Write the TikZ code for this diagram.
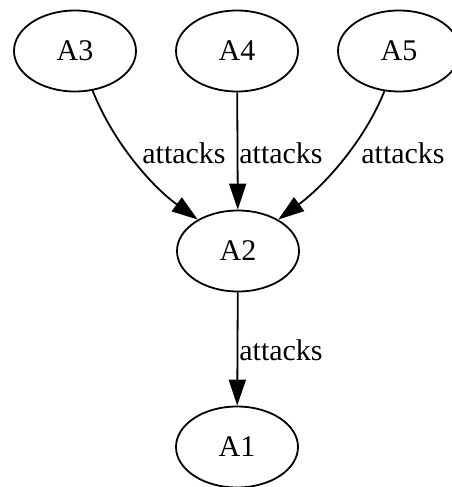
\documentclass[tikz,border=0pt]{standalone}
\usepackage{fontspec}
\setmainfont{Liberation Serif}
\usetikzlibrary{arrows.meta,shapes.geometric}
\begin{document}
\begin{tikzpicture}[x=1pt,y=1pt,
  arg/.style={draw,ellipse,line width=1.8pt,minimum width=122pt,minimum height=81pt,inner sep=0pt,font=\fontsize{30}{30}\selectfont},
  lbl/.style={font=\fontsize{30}{30}\selectfont,inner sep=0pt},
  edge/.style={line width=1.8pt,-{Triangle[length=26pt,width=17pt]}}]
\useasboundingbox (0,0) rectangle (452,-487);
\node[arg] (A3) at (75,-51) {A3};
\node[arg] (A4) at (237,-51) {A4};
\node[arg] (A5) at (399,-51) {A5};
\node[arg] (A2) at (238,-251) {A2};
\node[arg] (A1) at (237,-447) {A1};
\draw[edge] (A3.-66) .. controls (112,-140) and (150,-185) .. (A2.142);
\draw[edge] (A4) -- (A2);
\draw[edge] (A5.-110) .. controls (365,-140) and (325,-185) .. (A2.38);
\draw[edge] (A2) -- (A1);
\node[lbl] (L1) at (184,-153) {attacks};
\node[lbl] (L2) at (281,-153) {attacks};
\node[lbl] (L3) at (403,-153) {attacks};
\node[lbl] (L4) at (281,-350) {attacks};
\end{tikzpicture}
\end{document}
